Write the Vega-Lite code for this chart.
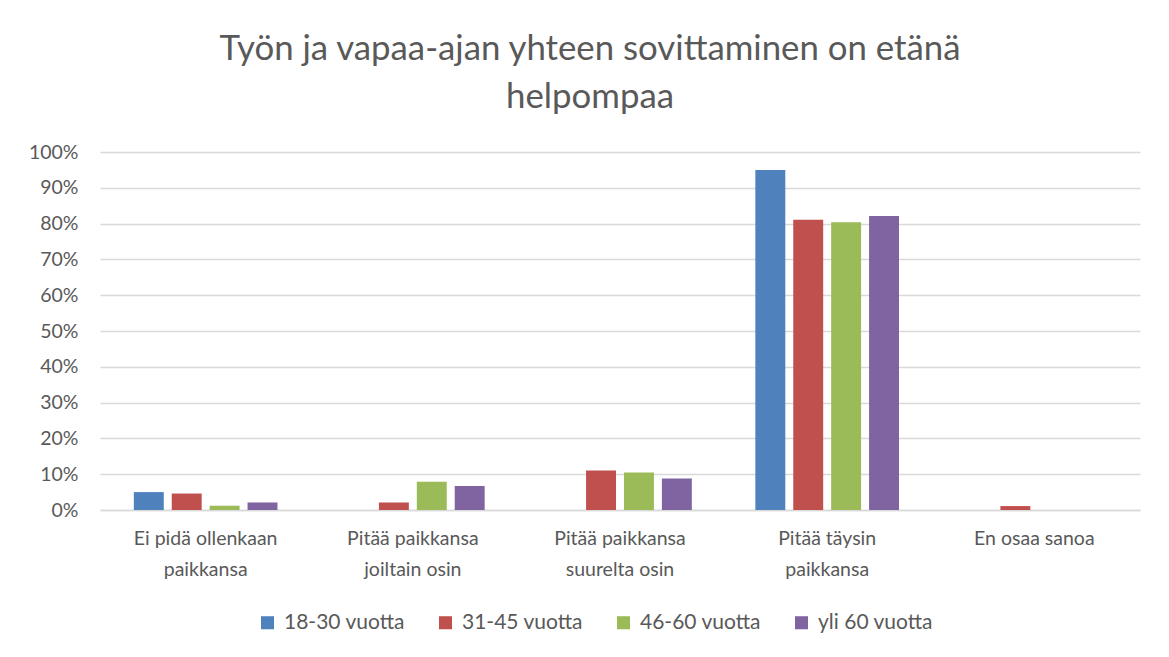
{
  "$schema": "https://vega.github.io/schema/vega-lite/v6.json",
  "width": 1040,
  "height": 358,
  "padding": {"left": 28, "top": 32, "right": 13, "bottom": 10},
  "background": "white",
  "title": {
    "text": ["Työn ja vapaa-ajan yhteen sovittaminen on etänä", "helpompaa"],
    "font": "Lato",
    "fontSize": 34.8,
    "fontWeight": "normal",
    "color": "#595959",
    "lineHeight": 48,
    "anchor": "middle",
    "dx": -30,
    "offset": 26
  },
  "data": {
    "values": [
      {"vastaus": "Ei pidä ollenkaan paikkansa", "ikä": "18-30 vuotta", "osuus": 0.050},
      {"vastaus": "Ei pidä ollenkaan paikkansa", "ikä": "31-45 vuotta", "osuus": 0.046},
      {"vastaus": "Ei pidä ollenkaan paikkansa", "ikä": "46-60 vuotta", "osuus": 0.012},
      {"vastaus": "Ei pidä ollenkaan paikkansa", "ikä": "yli 60 vuotta", "osuus": 0.021},
      {"vastaus": "Pitää paikkansa joiltain osin", "ikä": "18-30 vuotta", "osuus": 0.0},
      {"vastaus": "Pitää paikkansa joiltain osin", "ikä": "31-45 vuotta", "osuus": 0.021},
      {"vastaus": "Pitää paikkansa joiltain osin", "ikä": "46-60 vuotta", "osuus": 0.079},
      {"vastaus": "Pitää paikkansa joiltain osin", "ikä": "yli 60 vuotta", "osuus": 0.067},
      {"vastaus": "Pitää paikkansa suurelta osin", "ikä": "18-30 vuotta", "osuus": 0.0},
      {"vastaus": "Pitää paikkansa suurelta osin", "ikä": "31-45 vuotta", "osuus": 0.110},
      {"vastaus": "Pitää paikkansa suurelta osin", "ikä": "46-60 vuotta", "osuus": 0.105},
      {"vastaus": "Pitää paikkansa suurelta osin", "ikä": "yli 60 vuotta", "osuus": 0.088},
      {"vastaus": "Pitää täysin paikkansa", "ikä": "18-30 vuotta", "osuus": 0.950},
      {"vastaus": "Pitää täysin paikkansa", "ikä": "31-45 vuotta", "osuus": 0.811},
      {"vastaus": "Pitää täysin paikkansa", "ikä": "46-60 vuotta", "osuus": 0.804},
      {"vastaus": "Pitää täysin paikkansa", "ikä": "yli 60 vuotta", "osuus": 0.821},
      {"vastaus": "En osaa sanoa", "ikä": "18-30 vuotta", "osuus": 0.0},
      {"vastaus": "En osaa sanoa", "ikä": "31-45 vuotta", "osuus": 0.011},
      {"vastaus": "En osaa sanoa", "ikä": "46-60 vuotta", "osuus": 0.0},
      {"vastaus": "En osaa sanoa", "ikä": "yli 60 vuotta", "osuus": 0.0}
    ]
  },
  "mark": {"type": "bar"},
  "encoding": {
    "x": {
      "field": "vastaus",
      "type": "nominal",
      "sort": null,
      "scale": {"paddingInner": 0.27, "paddingOuter": 0.145},
      "axis": {
        "title": null,
        "labelAngle": 0,
        "labelFont": "Lato",
        "labelFontSize": 19.5,
        "labelColor": "#595959",
        "labelLineHeight": 31,
        "labelPadding": 19,
        "ticks": false,
        "domain": true,
        "domainColor": "#D9D9D9",
        "domainWidth": 1.5,
        "labelExpr": "datum.value == 'Ei pidä ollenkaan paikkansa' ? ['Ei pidä ollenkaan', 'paikkansa'] : datum.value == 'Pitää paikkansa joiltain osin' ? ['Pitää paikkansa', 'joiltain osin'] : datum.value == 'Pitää paikkansa suurelta osin' ? ['Pitää paikkansa', 'suurelta osin'] : datum.value == 'Pitää täysin paikkansa' ? ['Pitää täysin', 'paikkansa'] : datum.value"
      }
    },
    "xOffset": {
      "field": "ikä",
      "type": "nominal",
      "sort": ["18-30 vuotta", "31-45 vuotta", "46-60 vuotta", "yli 60 vuotta"],
      "scale": {"paddingInner": 0.21, "paddingOuter": 0.1}
    },
    "y": {
      "field": "osuus",
      "type": "quantitative",
      "scale": {"domain": [0, 1], "nice": false},
      "axis": {
        "title": null,
        "format": ".0%",
        "values": [0, 0.1, 0.2, 0.3, 0.4, 0.5, 0.6, 0.7, 0.8, 0.9, 1],
        "labelOverlap": false,
        "labelFont": "Lato",
        "labelFontSize": 19.5,
        "labelColor": "#595959",
        "labelPadding": 22,
        "ticks": false,
        "domain": false,
        "grid": true,
        "gridColor": "#D9D9D9",
        "gridWidth": 1.3
      }
    },
    "color": {
      "field": "ikä",
      "type": "nominal",
      "sort": ["18-30 vuotta", "31-45 vuotta", "46-60 vuotta", "yli 60 vuotta"],
      "scale": {
        "domain": ["18-30 vuotta", "31-45 vuotta", "46-60 vuotta", "yli 60 vuotta"],
        "range": ["#4F81BD", "#C0504D", "#9BBB59", "#8064A2"]
      },
      "legend": {
        "title": null,
        "orient": "none",
        "legendX": 157,
        "legendY": 460,
        "direction": "horizontal",
        "symbolType": "square",
        "symbolSize": 170,
        "labelFont": "Lato",
        "labelFontSize": 21,
        "labelColor": "#595959",
        "labelOffset": 6,
        "columnPadding": 30
      }
    }
  },
  "config": {
    "view": {"stroke": null}
  }
}
